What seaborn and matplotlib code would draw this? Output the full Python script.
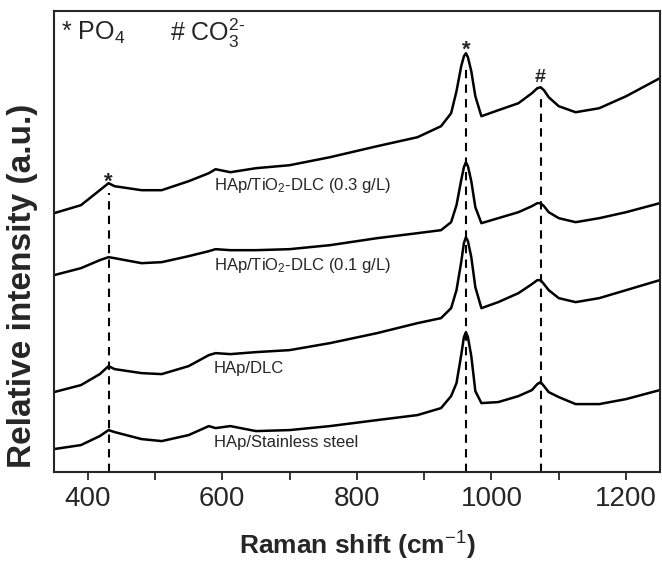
import numpy as np
import pandas as pd
import matplotlib
matplotlib.use("Agg")
import matplotlib.pyplot as plt
import seaborn as sns
from matplotlib.ticker import MultipleLocator

# Raman shift positions (cm-1)
shift = [350, 390, 418, 431, 440, 480, 510, 550, 580, 590, 612, 650, 700,
         760, 830, 890, 925, 940, 948, 955, 959, 962, 965, 970, 976, 985,
         1010, 1040, 1060, 1068, 1073, 1078, 1085, 1100, 1125, 1160, 1200,
         1250]

# stacked spectra (arbitrary units, offsets included)
tio2_03 = [278, 286, 301, 308, 305, 301, 301, 310, 318, 322, 319, 323, 326,
           334, 345, 354, 365, 378, 400, 425, 435, 438, 434, 420, 395, 375,
           381, 388, 398, 403, 404, 401, 394, 385, 379, 383, 395, 413]
tio2_01 = [216, 223, 231, 234, 233, 228, 229, 235, 240, 242, 241, 241, 242,
           246, 253, 258, 261, 269, 286, 311, 324, 329, 325, 310, 284, 268,
           273, 279, 285, 288, 288, 285, 279, 273, 269, 273, 279, 288]
dlc = [99, 106, 117, 125, 122, 118, 117, 125, 136, 138, 137, 139, 141,
       148, 158, 168, 173, 183, 201, 229, 248, 254, 250, 234, 204, 183,
       189, 198, 207, 211, 211, 207, 201, 193, 189, 193, 201, 211]
steel = [42, 46, 55, 61, 59, 52, 50, 56, 65, 63, 65, 60, 61,
         65, 71, 76, 83, 95, 108, 136, 154, 159, 154, 135, 100, 88,
         89, 95, 101, 107, 109, 105, 99, 94, 87, 87, 92, 101]

series = {
    "HAp/TiO$_2$-DLC (0.3 g/L)": tio2_03,
    "HAp/TiO$_2$-DLC (0.1 g/L)": tio2_01,
    "HAp/DLC": dlc,
    "HAp/Stainless steel": steel,
}
label_y = [306, 226, 123, 49]

# peak markers
peak_x = [431, 962, 1073]
peak_top = [298, 424, 394]
peak_sym = ["*", "*", "#"]
sym_y = [303, 436, 409]

ymin, ymax = 19, 480

sns.set_style("ticks")
plt.rcParams["font.family"] = ["Liberation Sans", "DejaVu Sans"]
plt.rcParams["mathtext.fontset"] = "custom"
plt.rcParams["mathtext.rm"] = "Liberation Sans"
plt.rcParams["mathtext.it"] = "Liberation Sans:italic"
plt.rcParams["mathtext.bf"] = "Liberation Sans:bold"

fig = plt.figure(figsize=(6.62, 5.64), dpi=100)
ax = fig.add_axes([0.0816, 0.163, 0.915, 0.817])

for name, vals in series.items():
    df = pd.DataFrame({"shift": shift, "intensity": vals})
    sns.lineplot(data=df, x="shift", y="intensity", ax=ax, color="black",
                 linewidth=1.8)

for name, ly in zip(series.keys(), label_y):
    ax.text(587, ly, name, fontsize=12, va="center", ha="left")

for px, top, s, sy in zip(peak_x, peak_top, peak_sym, sym_y):
    ax.plot([px, px], [ymin, top], color="black", linestyle=(0, (4, 3)),
            linewidth=1.5)
    ax.text(px, sy, s, fontsize=16 if s == "*" else 14, fontweight="bold",
            ha="center", va="baseline")

ax.text(360, 458, "* PO$_4$", fontsize=18, va="center", ha="left")
ax.text(522, 458, r"# CO$_3^{2\text{-}}$", fontsize=18, va="center",
        ha="left")

ax.set_xlim(350, 1250)
ax.set_ylim(ymin, ymax)
ax.xaxis.set_major_locator(MultipleLocator(200))
ax.xaxis.set_minor_locator(MultipleLocator(100))
ax.tick_params(axis="x", which="major", direction="out", length=6, width=1.3,
               labelsize=20, pad=4)
ax.tick_params(axis="x", which="minor", direction="out", length=6, width=1.3)
ax.set_yticks([])
for sp in ax.spines.values():
    sp.set_linewidth(1.5)
    sp.set_visible(True)

ax.set_xlabel("Raman shift (cm$^{-1}$)", fontsize=19, fontweight="bold",
              labelpad=13)
ax.set_ylabel("Relative intensity (a.u.)", fontsize=24, fontweight="bold")
ax.yaxis.set_label_coords(-0.026, 0.405)

fig.savefig("out.png", dpi=100)
